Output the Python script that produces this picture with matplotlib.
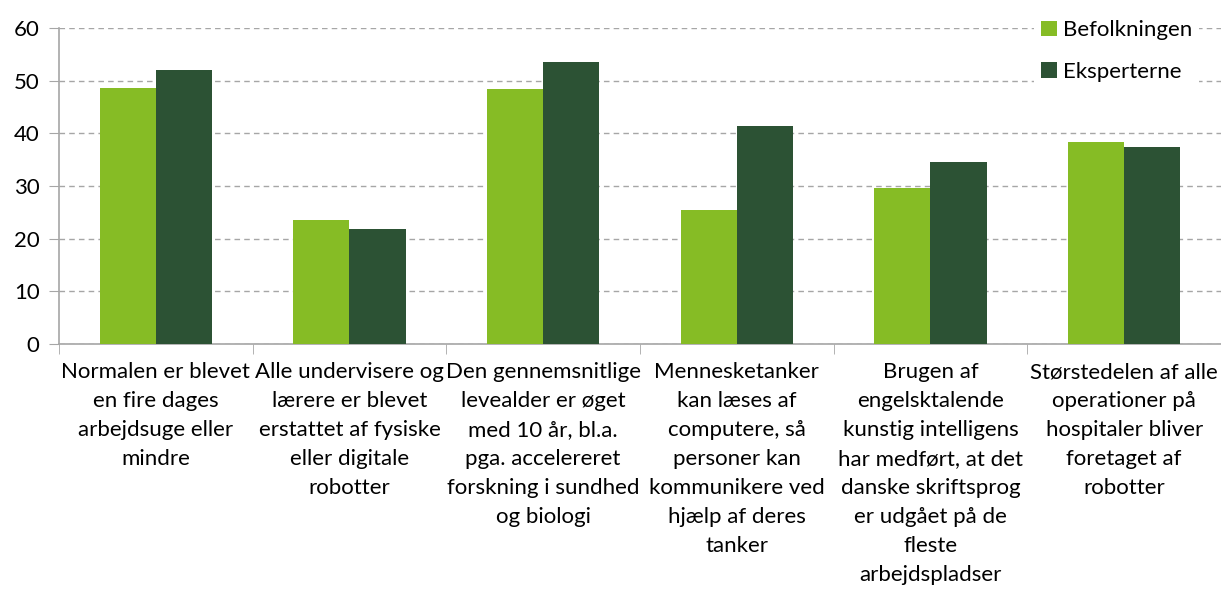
import numpy as np
import matplotlib
matplotlib.use("Agg")
import matplotlib.pyplot as plt

categories = [
    "Normalen er blevet\nen fire dages\narbejdsuge eller\nmindre",
    "Alle undervisere og\nlærere er blevet\nerstattet af fysiske\neller digitale\nrobotter",
    "Den gennemsnitlige\nlevealder er øget\nmed 10 år, bl.a.\npga. accelereret\nforskning i sundhed\nog biologi",
    "Mennesketanker\nkan læses af\ncomputere, så\npersoner kan\nkommunikere ved\nhjælp af deres\ntanker",
    "Brugen af\nengelsktalende\nkunstig intelligens\nhar medført, at det\ndanske skriftsprog\ner udgået på de\nfleste\narbejdspladser",
    "Størstedelen af alle\noperationer på\nhospitaler bliver\nforetaget af\nrobotter",
]
befolkningen = [48.7, 23.6, 48.5, 25.4, 29.6, 38.3]
eksperterne = [52.0, 21.9, 53.5, 41.4, 34.5, 37.5]

plt.rcParams['font.family'] = ['Lato', 'DejaVu Sans']

light = '#86bc25'
dark = '#2c5234'
grey = '#a6a6a6'

fig = plt.figure(figsize=(12.21, 5.9), dpi=100)
ax = fig.add_axes([0.0483, 0.417, 0.9517, 0.5355])

x = np.arange(len(categories))
w = 0.29
ax.bar(x - w / 2, befolkningen, w, color=light, label='Befolkningen', zorder=3)
ax.bar(x + w / 2, eksperterne, w, color=dark, label='Eksperterne', zorder=3)

ax.set_xlim(-0.5, len(categories) - 0.5)
ax.set_ylim(0, 60)
ax.set_yticks(range(0, 61, 10))
ax.yaxis.grid(True, linestyle=(0, (4, 3)), color=grey, linewidth=1)
ax.set_axisbelow(True)

ax.set_xticks(x)
ax.set_xticklabels(categories, fontsize=16, linespacing=1.56)
ax.set_xticks(np.arange(-0.5, len(categories), 1), minor=True)
ax.tick_params(axis='x', which='major', length=0, pad=13)
ax.tick_params(axis='x', which='minor', length=7, color=grey)
ax.tick_params(axis='y', length=7, color=grey, labelsize=16, pad=7)

for s in ['top', 'right']:
    ax.spines[s].set_visible(False)
for s in ['left', 'bottom']:
    ax.spines[s].set_color(grey)
    ax.spines[s].set_linewidth(1.2)

leg = ax.legend(loc='upper left', bbox_to_anchor=(0.8395, 1.045), fontsize=16,
                handlelength=0.7, handleheight=0.7, handletextpad=0.3,
                labelspacing=0.95, frameon=True, fancybox=False,
                borderpad=0.3, borderaxespad=0)
leg.get_frame().set_edgecolor('none')
leg.get_frame().set_facecolor('white')
leg.get_frame().set_alpha(1)

fig.savefig('out.png', dpi=100)
